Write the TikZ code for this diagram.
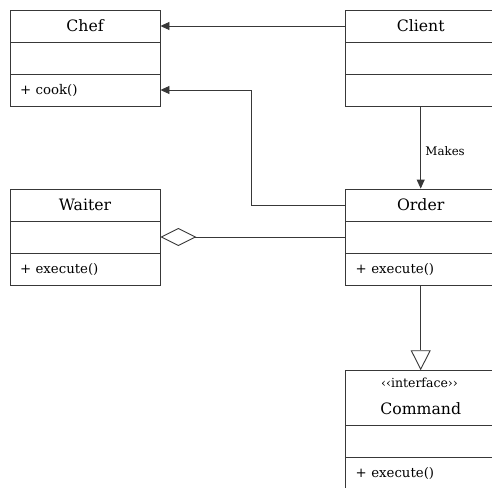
\documentclass[tikz,border=0pt]{standalone}
\usepackage{fontspec}
\setmainfont{DejaVu Serif}
\usetikzlibrary{arrows.meta}
\tikzset{
  x=1pt,y=-1pt,
  ln/.style={draw=black!78,line width=0.9pt},
  comp/.style={ln,rectangle,minimum width=150pt,minimum height=32pt,inner sep=0pt,anchor=center},
  ttl/.style={comp,font=\fontsize{15.7}{18}\selectfont},
  meth/.style={comp,font=\fontsize{13.3}{15}\selectfont,text width=130pt,align=left},
  conn/.style={draw=black!78,line width=0.9pt},
  solidtip/.style={-{Triangle[length=9pt,width=8pt]}},
}
\begin{document}
\begin{tikzpicture}
\clip (0,0) rectangle (492,487);
\fill[white] (0,0) rectangle (492,487);
% Chef
\node[ttl] (chefT) at (85,26) {Chef};
\node[comp] (chefA) at (85,58) {};
\node[meth] (chefM) at (85,90) {+ cook()};
% Client
\node[ttl] (clientT) at (420.7,26) {Client};
\node[comp] (clientA) at (420.7,58) {};
\node[comp] (clientM) at (420.7,90) {};
% Waiter
\node[ttl] (waiterT) at (85,205) {Waiter};
\node[comp] (waiterA) at (85,237) {};
\node[meth] (waiterM) at (85,269) {+ execute()};
% Order
\node[ttl] (orderT) at (420.7,205) {Order};
\node[comp] (orderA) at (420.7,237) {};
\node[meth] (orderM) at (420.7,269) {+ execute()};
% Command
\node[comp,minimum height=55pt] (cmdT) at (420.7,398.2) {};
\node[font=\fontsize{12.5}{14}\selectfont] (cmdS) at (419.5,382.5) {‹‹interface››};
\node[font=\fontsize{15.7}{18}\selectfont] (cmdN) at (420.7,408.5) {Command};
\node[comp] (cmdA) at (420.7,441.7) {};
\node[meth] (cmdM) at (420.7,473.7) {+ execute()};
% connectors
\draw[conn,solidtip] (clientT.west) -- (chefT.east);
\draw[conn,solidtip] (orderT.west) -- ++(-93.4,0) |- (chefM.east);
\draw[conn,solidtip] (clientM.south) -- node[pos=0.54,right=1pt,font=\fontsize{11.8}{14}\selectfont] {Makes} (orderT.north);
\draw[conn,{Diamond[open,length=36pt,width=18pt]}-] (waiterA.east) -- (orderA.west);
\draw[conn,-{Triangle[open,length=20pt,width=20pt]}] (orderM.south) -- (cmdT.north);
\end{tikzpicture}
\end{document}
